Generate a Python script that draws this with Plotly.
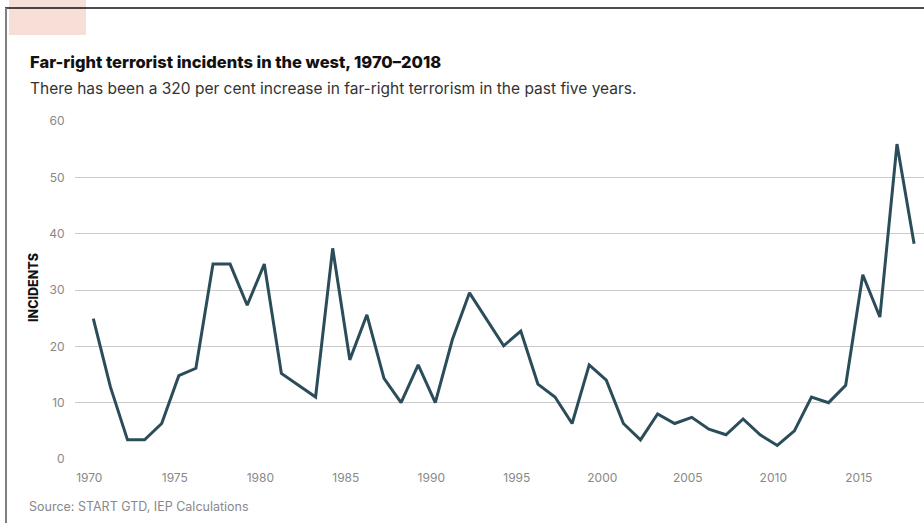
import plotly.graph_objects as go

years = list(range(1970, 2019))
incidents = [24.9, 12.8, 3.4, 3.4, 6.3, 14.8, 16.1, 34.6, 34.6, 27.3,
             34.6, 15.2, 13.1, 11.0, 37.4, 17.6, 25.6, 14.3, 10.0, 16.7,
             10.0, 21.2, 29.5, 24.8, 20.1, 22.7, 13.3, 11.0, 6.3, 16.7,
             14.0, 6.3, 3.4, 8.0, 6.3, 7.4, 5.3, 4.3, 7.1, 4.3,
             2.4, 5.0, 11.0, 10.0, 13.1, 32.7, 25.2, 55.9, 38.2]
x_ticks = [1970, 1975, 1980, 1985, 1990, 1995, 2000, 2005, 2010, 2015]
y_ticks = [0, 10, 20, 30, 40, 50, 60]

title_text = "Far-right terrorist incidents in the west, 1970–2018"
subtitle_text = "There has been a 320 per cent increase in far-right terrorism in the past five years."
source_text = "Source: START GTD, IEP Calculations"
ytitle_text = "INCIDENTS"

W, H = 924, 523
ML, MR, MT, MB = 75, 0, 121, 64
PW, PH = W - ML - MR, H - MT - MB

def px(x):
    return (x - ML) / PW

def py(y):
    return (H - MB - y) / PH

FONT = "Inter"

fig = go.Figure()
fig.add_trace(go.Scatter(
    x=years, y=incidents, mode="lines",
    line=dict(color="#2b4d5a", width=3),
    hoverinfo="x+y", showlegend=False,
))

fig.update_layout(
    width=W, height=H,
    margin=dict(l=ML, r=MR, t=MT, b=MB, pad=0),
    paper_bgcolor="white", plot_bgcolor="white",
    font=dict(family=FONT, color="#888888", size=12),
    xaxis=dict(
        range=[1968.93, 2018.58], tickmode="array", tickvals=x_ticks,
        showgrid=False, zeroline=False, showline=False,
        ticks="outside", ticklen=8, tickcolor="rgba(0,0,0,0)",
        ticklabelshift=-4,
        tickfont=dict(size=12, color="#888888"),
    ),
    yaxis=dict(
        range=[0, 60], tickmode="array", tickvals=y_ticks,
        showgrid=True, gridcolor="#cccccc", gridwidth=1,
        zeroline=False, showline=False,
        ticks="outside", ticklen=7, tickcolor="rgba(0,0,0,0)",
        tickfont=dict(size=12, color="#888888"),
    ),
)

annotations = [
    dict(text=title_text, x=px(28), y=py(62), xref="paper", yref="paper",
         xanchor="left", yanchor="middle", showarrow=False,
         font=dict(family=FONT, size=16.5, color="#111111", weight=800)),
    dict(text=subtitle_text, x=px(28), y=py(88), xref="paper", yref="paper",
         xanchor="left", yanchor="middle", showarrow=False,
         font=dict(family=FONT, size=15.5, color="#333333")),
    dict(text=source_text, x=px(27), y=py(506), xref="paper", yref="paper",
         xanchor="left", yanchor="middle", showarrow=False,
         font=dict(family=FONT, size=12.5, color="#888888")),
    dict(text=ytitle_text, x=px(33), y=py(288), xref="paper", yref="paper",
         xanchor="center", yanchor="middle", textangle=-90, showarrow=False,
         font=dict(family=FONT, size=12.5, color="#111111", weight=800)),
]
fig.update_layout(annotations=annotations)

shapes = [
    dict(type="rect", xref="paper", yref="paper", x0=px(9), x1=px(86), y0=py(35), y1=py(-2),
         fillcolor="#f7ded6", line=dict(width=0), layer="below"),
    dict(type="line", xref="paper", yref="paper", x0=px(5), x1=px(W + 2), y0=py(8), y1=py(8),
         line=dict(color="#111111", width=1.5)),
    dict(type="line", xref="paper", yref="paper", x0=px(6), x1=px(6), y0=py(8), y1=py(H + 2),
         line=dict(color="#808080", width=2)),
]
fig.update_layout(shapes=shapes)

fig.write_html("out.html")
